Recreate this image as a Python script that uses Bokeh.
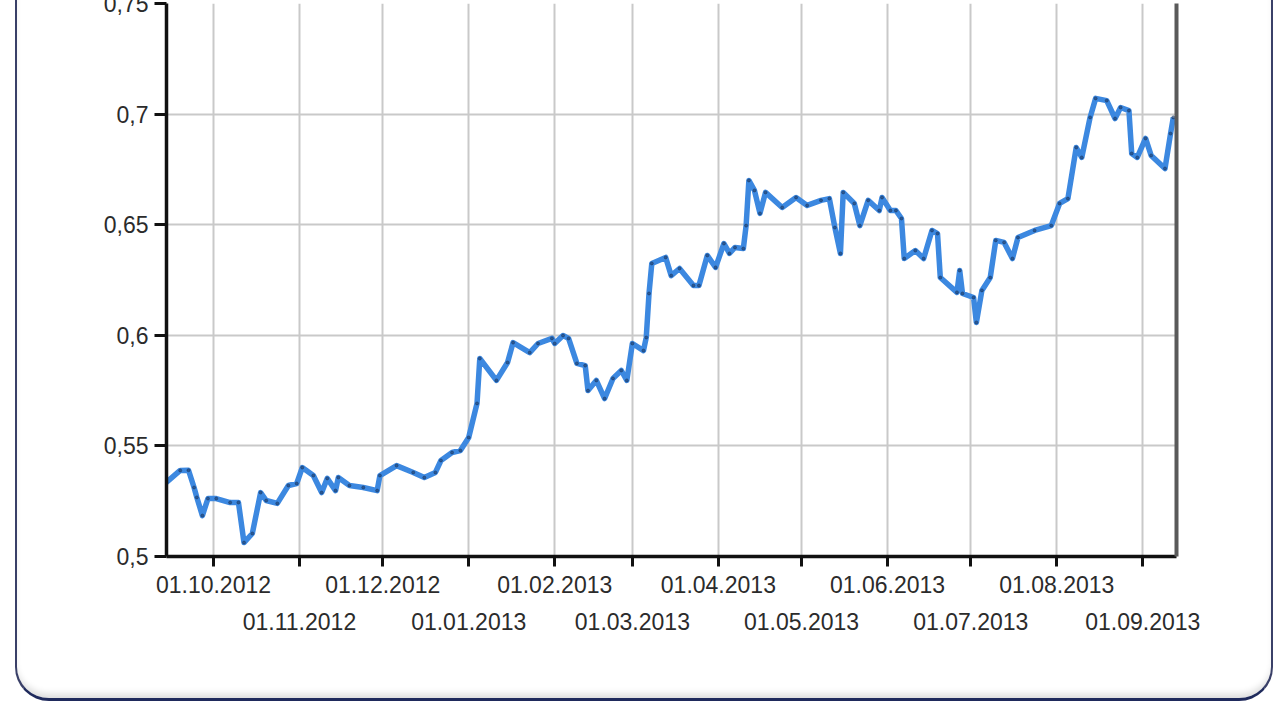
from datetime import datetime
import pandas as pd
from bokeh.plotting import figure
from bokeh.models import (FixedTicker, DatetimeAxis, DatetimeTickFormatter, LinearAxis,
                          Range1d, ColumnDataSource)
from bokeh.embed import file_html
from bokeh.resources import INLINE

dates = [
    "2012-09-14", "2012-09-19", "2012-09-22", "2012-09-24", "2012-09-25", "2012-09-27", "2012-09-29",
    "2012-10-02", "2012-10-07", "2012-10-10", "2012-10-12", "2012-10-15", "2012-10-18", "2012-10-20",
    "2012-10-24", "2012-10-28", "2012-10-31", "2012-11-02", "2012-11-06", "2012-11-09", "2012-11-11",
    "2012-11-14", "2012-11-15", "2012-11-19", "2012-11-24", "2012-11-29", "2012-11-30", "2012-12-06",
    "2012-12-12", "2012-12-16", "2012-12-20", "2012-12-22", "2012-12-26", "2012-12-29", "2013-01-01",
    "2013-01-04", "2013-01-05", "2013-01-11", "2013-01-15", "2013-01-17", "2013-01-23", "2013-01-26",
    "2013-01-31", "2013-02-01", "2013-02-04", "2013-02-06", "2013-02-09", "2013-02-12", "2013-02-13",
    "2013-02-16", "2013-02-19", "2013-02-22", "2013-02-25", "2013-02-27", "2013-03-01", "2013-03-05",
    "2013-03-06", "2013-03-07", "2013-03-08", "2013-03-13", "2013-03-15", "2013-03-18", "2013-03-23",
    "2013-03-25", "2013-03-28", "2013-03-31", "2013-04-03", "2013-04-05", "2013-04-07", "2013-04-10",
    "2013-04-11", "2013-04-12", "2013-04-14", "2013-04-16", "2013-04-18", "2013-04-24", "2013-04-29",
    "2013-05-03", "2013-05-08", "2013-05-11", "2013-05-13", "2013-05-15", "2013-05-16", "2013-05-20",
    "2013-05-22", "2013-05-25", "2013-05-29", "2013-05-30", "2013-06-02", "2013-06-04", "2013-06-06",
    "2013-06-07", "2013-06-11", "2013-06-14", "2013-06-17", "2013-06-19", "2013-06-20", "2013-06-26",
    "2013-06-27", "2013-06-28", "2013-07-02", "2013-07-03", "2013-07-05", "2013-07-08", "2013-07-10",
    "2013-07-13", "2013-07-16", "2013-07-18", "2013-07-24", "2013-07-30", "2013-08-02", "2013-08-05",
    "2013-08-08", "2013-08-10", "2013-08-13", "2013-08-15", "2013-08-19", "2013-08-22", "2013-08-24",
    "2013-08-27", "2013-08-28", "2013-08-30", "2013-09-02", "2013-09-04", "2013-09-09", "2013-09-11",
    "2013-09-12",
]
values = [
    0.5335, 0.5389, 0.5390, 0.5312, 0.5267, 0.5185, 0.5262,
    0.5262, 0.5244, 0.5244, 0.5063, 0.5104, 0.5289, 0.5253,
    0.5240, 0.5321, 0.5330, 0.5402, 0.5366, 0.5289, 0.5353,
    0.5298, 0.5357, 0.5321, 0.5312, 0.5298, 0.5366, 0.5411,
    0.5380, 0.5357, 0.5380, 0.5434, 0.5470, 0.5479, 0.5538,
    0.5692, 0.5895, 0.5796, 0.5877, 0.5967, 0.5922, 0.5963,
    0.5986, 0.5963, 0.5999, 0.5986, 0.5873, 0.5863, 0.5750,
    0.5796, 0.5714, 0.5805, 0.5841, 0.5796, 0.5963, 0.5931,
    0.5990, 0.6189, 0.6325, 0.6352, 0.6270, 0.6302, 0.6225,
    0.6225, 0.6361, 0.6307, 0.6415, 0.6370, 0.6397, 0.6392,
    0.6496, 0.6700, 0.6655, 0.6551, 0.6646, 0.6578, 0.6623,
    0.6587, 0.6610, 0.6618, 0.6487, 0.6370, 0.6646, 0.6596,
    0.6496, 0.6610, 0.6564, 0.6623, 0.6564, 0.6564, 0.6528,
    0.6347, 0.6383, 0.6347, 0.6474, 0.6460, 0.6261, 0.6194,
    0.6293, 0.6189, 0.6171, 0.6058, 0.6203, 0.6261, 0.6429,
    0.6420, 0.6347, 0.6442, 0.6474, 0.6496, 0.6596, 0.6618,
    0.6849, 0.6804, 0.6985, 0.7071, 0.7061, 0.6980, 0.7030,
    0.7016, 0.6822, 0.6804, 0.6890, 0.6813, 0.6754, 0.6912,
    0.6985,
]

row1_ticks = ["2012-10-01", "2012-12-01", "2013-02-01", "2013-04-01", "2013-06-01", "2013-08-01"]
row2_ticks = ["2012-11-01", "2013-01-01", "2013-03-01", "2013-05-01", "2013-07-01", "2013-09-01"]
y_ticks = [0.5, 0.55, 0.6, 0.65, 0.7, 0.75]
y_labels = ["0,5", "0,55", "0,6", "0,65", "0,7", "0,75"]


def ms(s):
    return pd.Timestamp(s).value / 1e6


FONT = "Liberation Sans"
TEXT_COLOR = "#2b2b2b"
FS = "23px"

src = ColumnDataSource(dict(x=pd.to_datetime(dates), y=values))

# canvas sits inside a rounded, bordered box whose top edge is outside the window
p = figure(width=1258, height=761, x_axis_type="datetime", output_backend="svg",
           toolbar_location=None, title=None,
           x_range=Range1d(datetime(2012, 9, 14, 1, 30), datetime(2013, 9, 13, 3, 30)),
           y_range=Range1d(0.5, 0.75),
           min_border_left=149, min_border_right=99, min_border_top=61, min_border_bottom=147)
p.styles = {
    "position": "absolute", "left": "15px", "top": "-60px",
    "border": "2px solid #3a4068", "border-bottom": "3px solid #1f2a5c",
    "border-radius": "34px",
    "box-shadow": "inset 0 -7px 7px -3px rgba(0,0,0,0.14)",
    "background": "white",
}
p.outline_line_color = None
p.background_fill_color = "white"
p.border_fill_color = None

fmt = DatetimeTickFormatter(years="%d.%m.%Y", months="%d.%m.%Y", days="%d.%m.%Y",
                            hours="%d.%m.%Y", minutes="%d.%m.%Y", seconds="%d.%m.%Y",
                            milliseconds="%d.%m.%Y", microseconds="%d.%m.%Y",
                            hourmin="%d.%m.%Y", minsec="%d.%m.%Y")

all_ticks = sorted([ms(t) for t in row1_ticks + row2_ticks])

# first row axis (tick marks for every month, labels for every other month)
ax = p.xaxis[0]
ax.ticker = FixedTicker(ticks=[ms(t) for t in row1_ticks], minor_ticks=[ms(t) for t in row2_ticks])
ax.formatter = fmt
ax.axis_line_width = 3.5
ax.axis_line_color = "#111111"
ax.major_tick_line_width = 3
ax.major_tick_line_color = "#111111"
ax.major_tick_out = 10
ax.major_tick_in = 0
ax.minor_tick_line_width = 3
ax.minor_tick_line_color = "#111111"
ax.minor_tick_out = 10
ax.minor_tick_in = 0
ax.major_label_text_font = FONT
ax.major_label_text_font_size = FS
ax.major_label_text_color = TEXT_COLOR
ax.major_label_standoff = 9

# second row axis
ax2 = DatetimeAxis(ticker=FixedTicker(ticks=[ms(t) for t in row2_ticks]), formatter=fmt)
ax2.axis_line_color = None
ax2.major_tick_line_color = None
ax2.minor_tick_line_color = None
ax2.major_tick_out = 0
ax2.major_tick_in = 0
ax2.minor_tick_out = 0
ax2.minor_tick_in = 0
ax2.major_label_text_font = FONT
ax2.major_label_text_font_size = FS
ax2.major_label_text_color = TEXT_COLOR
ax2.major_label_standoff = 17
p.add_layout(ax2, "below")

# y axis
yax = p.yaxis[0]
yax.ticker = FixedTicker(ticks=y_ticks)
yax.major_label_overrides = {t: l for t, l in zip(y_ticks, y_labels)}
yax.axis_line_width = 3.5
yax.axis_line_color = "#111111"
yax.major_tick_line_width = 3
yax.major_tick_line_color = "#111111"
yax.major_tick_out = 12
yax.major_tick_in = 0
yax.minor_tick_line_color = None
yax.major_label_text_font = FONT
yax.major_label_text_font_size = FS
yax.major_label_text_color = TEXT_COLOR
yax.major_label_standoff = 6

# right edge of the plot area (shadowed border)
rax = LinearAxis(ticker=FixedTicker(ticks=[]), major_label_text_font_size="0px")
rax.axis_line_color = "#5a5a5a"
rax.axis_line_width = 4
rax.major_tick_line_color = None
rax.minor_tick_line_color = None
p.add_layout(rax, "right")

p.xgrid.ticker = FixedTicker(ticks=all_ticks)
p.ygrid.ticker = FixedTicker(ticks=y_ticks)
for g in (p.xgrid[0], p.ygrid[0]):
    g.grid_line_color = "#c9c9c9"
    g.grid_line_width = 2

p.line("x", "y", source=src, line_color="#3c88e0", line_width=5.5, line_join="round")
p.scatter("x", "y", source=src, size=3, color="#1d3a66", alpha=0.6)

open("out.html", "w").write(file_html(p, INLINE))
